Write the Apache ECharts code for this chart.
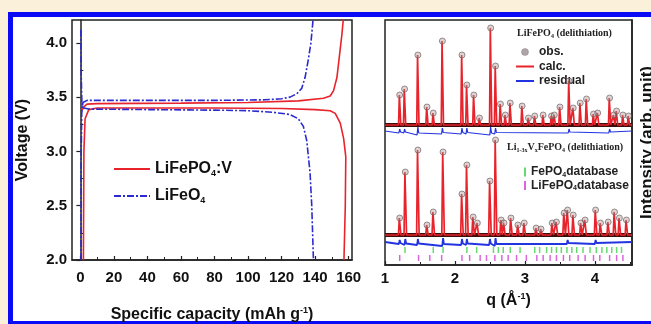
<!DOCTYPE html>
<html><head><meta charset="utf-8">
<script src="https://cdn.jsdelivr.net/npm/echarts@6/dist/echarts.min.js"></script>
<style>
html,body{margin:0;padding:0;width:651px;height:324px;overflow:hidden;background:#fbf0d9;}
#frame{position:absolute;left:8px;top:12px;width:680px;height:314px;border:5px solid #0a0af5;background:#fff;box-sizing:border-box;}
#chart{position:absolute;left:0;top:0;width:651px;height:324px;}
</style></head>
<body><div id="frame"></div><div id="chart"></div>
<script>
// ---------- Left panel: voltage profiles ----------
const xTicksLeft = [0,20,40,60,80,100,120,140,160];
const xMinorLeft = [10,30,50,70,90,110,130,150];
const yTicksLeft = [2.0,2.5,3.0,3.5,4.0];
const yMinorLeft = [2.25,2.75,3.25,3.75];

const lfpvCharge = [[1.0,3.38],[2,3.41],[4,3.435],[10,3.44],[60,3.445],[100,3.45],[130,3.465],[145,3.49],[149,3.51],[151,3.56],[153,3.68],[154.5,3.88],[156,4.08],[157,4.25]];
const lfpvDischarge = [[1.8,2.0],[2.1,3.0],[2.8,3.3],[5,3.385],[10,3.40],[40,3.40],[80,3.40],[120,3.395],[140,3.385],[149,3.375],[152,3.35],[155,3.26],[157,3.12],[158.3,2.95],[158,2.5],[157.2,2.0]];
const lfoCharge = [[0.4,2.0],[0.5,3.0],[0.8,3.35],[1.5,3.45],[4,3.47],[40,3.47],[80,3.47],[110,3.475],[120,3.485],[125,3.50],[129,3.53],[132,3.58],[134,3.68],[136,3.85],[137.5,4.0],[139,4.25]];
const lfoDischarge = [[0.3,4.12],[0.5,3.7],[0.9,3.45],[2,3.40],[5,3.39],[40,3.385],[80,3.38],[100,3.375],[115,3.36],[125,3.34],[130,3.3],[133,3.23],[135,3.1],[136,2.95],[137,2.8],[138,2.5],[139,2.0]];

// ---------- Right panel: diffraction patterns ----------
const qTicks = [1,2,3,4];
const qMinor = [1.5,2.5,3.5,4.5];
// peak positions (q, 1/Å) and heights (arb. unit)
const peaksLFP = [[1.21,30],[1.28,36],[1.47,70],[1.60,18],[1.69,12],[1.82,84],[2.10,70],[2.17,40],[2.27,30],[2.35,7],[2.51,97],[2.58,59],[2.65,21],[2.72,10],[2.79,22],[2.96,19],[3.05,7],[3.14,9],[3.26,10],[3.38,9],[3.42,10],[3.50,18],[3.63,44],[3.69,17],[3.79,22],[3.88,26],[3.98,11],[4.04,12],[4.21,27],[4.27,10],[4.31,14],[4.40,10],[4.48,9]];
const peaksLVFP = [[1.21,17],[1.29,63],[1.47,85],[1.60,10],[1.69,23],[1.83,83],[2.10,41],[2.17,70],[2.26,18],[2.32,12],[2.50,54],[2.58,95],[2.66,15],[2.70,12],[2.80,17],[2.90,10],[2.99,12],[3.16,7],[3.23,6],[3.39,12],[3.45,13],[3.56,22],[3.61,25],[3.69,20],[3.80,12],[3.86,15],[4.01,25],[4.08,12],[4.19,13],[4.28,23],[4.35,17],[4.45,15]];
const residLFP = [[1.21,2],[1.28,2],[1.47,4],[1.82,3],[2.10,3],[2.17,3],[2.51,4],[2.58,3],[3.63,2],[4.21,2]];
const residLVFP = [[1.21,2],[1.29,3],[1.47,3],[1.83,4],[2.10,3],[2.17,3],[2.50,3],[2.58,4],[3.61,2],[4.01,2]];
const ticksFePO4 = [1.286,1.69,1.83,2.17,2.31,2.55,2.62,2.69,2.79,2.93,3.14,3.21,3.31,3.38,3.45,3.52,3.60,3.67,3.74,3.83,3.93,4.02,4.10,4.17,4.24,4.31,4.38];
const ticksLiFePO4 = [1.21,1.48,1.64,1.81,2.10,2.21,2.36,2.45,2.57,2.67,2.76,2.88,3.02,3.17,3.26,3.36,3.45,3.55,3.64,3.76,3.86,3.98,4.07,4.21,4.31,4.40];
// vertical offsets of the stacked traces (arb. unit)
const offTop = 140, offTopRes = 134, offBot = 30, offBotRes = 23, offFe = 15, offLi = 7;
const qMin = 1, qMax = 4.53;

function spikes(peaks, base, w){
  const pts=[[qMin,base]];
  peaks.forEach(([q,h])=>{pts.push([q-w,base],[q-w*0.3,base+h],[q+w*0.3,base+h],[q+w,base]);});
  pts.push([qMax,base]);
  return pts;
}
function resid(list, base){
  const pts=[[qMin,base]];
  list.forEach(([q,a])=>{pts.push([q-0.012,base-a],[q,base+a],[q+0.012,base-a*0.5],[q+0.025,base]);});
  pts.push([qMax,base]);
  return pts;
}

const RED='#e8232b', BLUE='#2a2ad0';
const FONT='"Liberation Sans", Arial, sans-serif';
const SERIF='"Liberation Serif", "Times New Roman", serif';
const labelMap = {
  'LiFePO4:V':'{n|LiFePO}{s|4}{n|:V}',
  'LiFeO4':'{n|LiFeO}{s|4}',
  'obs.':'{m|obs.}','calc.':'{m|calc.}','residual':'{m|residual}',
  'FePO4 database':'{m|FePO}{t|4}{m|database}',
  'LiFePO4 database':'{m|LiFePO}{t|4}{m|database}'
};
const richBig = {n:{fontSize:16,fontWeight:'bold',fontFamily:FONT,color:'#111',lineHeight:18},
                 s:{fontSize:9,fontWeight:'bold',fontFamily:FONT,color:'#111',lineHeight:6,verticalAlign:'bottom'}};
const richSmall = {m:{fontSize:12,fontWeight:'bold',fontFamily:FONT,color:'#222',lineHeight:13},
                   t:{fontSize:7,fontWeight:'bold',fontFamily:FONT,color:'#222',lineHeight:4,verticalAlign:'bottom'}};
const hideSym = {opacity:0, borderWidth:0};

const chart = echarts.init(document.getElementById('chart'), null, {renderer:'canvas'});
const axisLineStyle = {color:'#222', width:1.5};
const option = {
  animation:false,
  textStyle:{fontFamily:FONT},
  grid:[
    {left:72, top:20, width:280, height:240, show:true, borderColor:'#222', borderWidth:1.5, backgroundColor:'transparent', outerBoundsMode:'none', containLabel:false},
    {left:385, top:20, width:247, height:245, show:true, borderColor:'#222', borderWidth:1.5, backgroundColor:'transparent', outerBoundsMode:'none', containLabel:false}
  ],
  xAxis:[
    {type:'value', gridIndex:0, min:-5, max:162, position:'bottom',
     axisLine:{show:true, lineStyle:axisLineStyle}, splitLine:{show:false},
     axisTick:{show:true, inside:true, length:4, customValues:xTicksLeft, lineStyle:{color:'#222',width:1.2}},
     axisLabel:{customValues:xTicksLeft, margin:10, fontSize:15, fontWeight:'bold', color:'#111', fontFamily:FONT},
     name:'{a|Specific capacity (mAh g}{p|-1}{a|)}', nameLocation:'middle', nameGap:46,
     nameTextStyle:{rich:{a:{fontSize:16,fontWeight:'bold',color:'#111',fontFamily:FONT,lineHeight:18},
                          p:{fontSize:9,fontWeight:'bold',color:'#111',fontFamily:FONT,lineHeight:14,verticalAlign:'top'}}}},
    {type:'value', gridIndex:0, min:-5, max:162, position:'bottom',
     axisLine:{show:false}, splitLine:{show:false}, axisLabel:{show:false},
     axisTick:{show:true, inside:true, length:3, customValues:xMinorLeft, lineStyle:{color:'#222',width:1}}},
    {type:'value', gridIndex:1, min:qMin, max:qMax, position:'bottom',
     axisLine:{show:true, lineStyle:axisLineStyle}, splitLine:{show:false},
     axisTick:{show:true, inside:true, length:4, customValues:qTicks, lineStyle:{color:'#222',width:1.2}},
     axisLabel:{customValues:qTicks, margin:6, fontSize:15, fontWeight:'bold', color:'#111', fontFamily:FONT},
     name:'{a|q (Å}{p|-1}{a|)}', nameLocation:'middle', nameGap:27,
     nameTextStyle:{rich:{a:{fontSize:16,fontWeight:'bold',color:'#111',fontFamily:FONT,lineHeight:18},
                          p:{fontSize:9,fontWeight:'bold',color:'#111',fontFamily:FONT,lineHeight:14,verticalAlign:'top'}}}},
    {type:'value', gridIndex:1, min:qMin, max:qMax, position:'bottom',
     axisLine:{show:false}, splitLine:{show:false}, axisLabel:{show:false},
     axisTick:{show:true, inside:true, length:3, customValues:qMinor, lineStyle:{color:'#222',width:1}}}
  ],
  yAxis:[
    {type:'value', gridIndex:0, min:2.0, max:4.21, position:'left',
     axisLine:{show:true, lineStyle:axisLineStyle}, splitLine:{show:false},
     axisTick:{show:true, inside:false, length:4, customValues:yTicksLeft, lineStyle:{color:'#222',width:1.2}},
     axisLabel:{customValues:yTicksLeft, margin:5, fontSize:15, fontWeight:'bold', color:'#111', fontFamily:FONT,
                formatter:v=>v.toFixed(1)},
     name:'Voltage (V)', nameLocation:'middle', nameGap:41,
     nameTextStyle:{fontSize:16, fontWeight:'bold', color:'#111', fontFamily:FONT}},
    {type:'value', gridIndex:0, min:2.0, max:4.21, position:'left',
     axisLine:{show:false}, splitLine:{show:false}, axisLabel:{show:false},
     axisTick:{show:true, inside:true, length:3, customValues:yMinorLeft, lineStyle:{color:'#222',width:1}}},
    {type:'value', gridIndex:1, min:0, max:245, position:'right',
     axisLine:{show:true, lineStyle:axisLineStyle}, splitLine:{show:false},
     axisTick:{show:false}, axisLabel:{show:false},
     name:'Intensity (arb. unit)', nameLocation:'middle', nameGap:7,
     nameTextStyle:{fontSize:17, fontWeight:'bold', color:'#111', fontFamily:FONT}}
  ],
  legend:[
    {data:[{name:'LiFePO4:V', itemStyle:hideSym},{name:'LiFeO4', itemStyle:hideSym}],
     orient:'vertical', left:113, top:161, padding:0, itemWidth:36, itemHeight:12, itemGap:10,
     formatter:n=>labelMap[n], textStyle:{rich:richBig}, selectedMode:false},
    {data:[{name:'obs.', icon:'circle', itemStyle:{color:'#9a9090', borderColor:'#777', borderWidth:0.5}},
           {name:'calc.', itemStyle:hideSym},{name:'residual', itemStyle:hideSym}],
     orient:'vertical', left:515, top:46, padding:0, itemWidth:18, itemHeight:7, itemGap:2.5,
     formatter:n=>labelMap[n], textStyle:{rich:richSmall}, selectedMode:false},
    {data:['FePO4 database','LiFePO4 database'], orient:'vertical', left:524, top:166, padding:0, itemWidth:2, itemHeight:9, itemGap:1,
     icon:'rect', formatter:n=>labelMap[n], textStyle:{rich:richSmall}, selectedMode:false}
  ],
  title:[
    {text:'{a|LiFePO}{s|4}{a| (delithiation)}', left:517, top:27, padding:0,
     textStyle:{rich:{a:{fontFamily:SERIF,fontWeight:'bold',fontSize:10,color:'#222',lineHeight:12},
                      s:{fontFamily:SERIF,fontWeight:'bold',fontSize:6,color:'#222',lineHeight:4,verticalAlign:'bottom'}}}},
    {text:'{a|Li}{s|1-3x}{a|V}{s|x}{a|FePO}{s|4}{a| (delithiation)}', left:507, top:141, padding:0,
     textStyle:{rich:{a:{fontFamily:SERIF,fontWeight:'bold',fontSize:10,color:'#222',lineHeight:12},
                      s:{fontFamily:SERIF,fontWeight:'bold',fontSize:6,color:'#222',lineHeight:4,verticalAlign:'bottom'}}}}
  ],
  series:[
    {name:'LiFePO4:V', type:'line', xAxisIndex:0, yAxisIndex:0, data:lfpvCharge, showSymbol:false, symbol:'none',
     lineStyle:{color:RED, width:1.6}, itemStyle:{color:RED}},
    {name:'LiFePO4:V', type:'line', xAxisIndex:0, yAxisIndex:0, data:lfpvDischarge, showSymbol:false, symbol:'none',
     lineStyle:{color:RED, width:1.6}, itemStyle:{color:RED}},
    {name:'LiFeO4', type:'line', xAxisIndex:0, yAxisIndex:0, data:lfoCharge, showSymbol:false, symbol:'none',
     lineStyle:{color:BLUE, width:1.6, type:[7,2,2,2]}, itemStyle:{color:BLUE}},
    {name:'LiFeO4', type:'line', xAxisIndex:0, yAxisIndex:0, data:lfoDischarge, showSymbol:false, symbol:'none',
     lineStyle:{color:BLUE, width:1.6, type:[7,2,2,2]}, itemStyle:{color:BLUE}},

    // background level (dense observed points along baseline)
    {name:'bgTop', type:'line', xAxisIndex:2, yAxisIndex:2, data:[[qMin,offTop],[qMax,offTop]], symbol:'none',
     lineStyle:{color:'#3a0e0a', width:4}, silent:true, z:1},
    {name:'bgBot', type:'line', xAxisIndex:2, yAxisIndex:2, data:[[qMin,offBot],[qMax,offBot]], symbol:'none',
     lineStyle:{color:'#3a0e0a', width:4}, silent:true, z:1},

    {name:'calc.', type:'line', xAxisIndex:2, yAxisIndex:2, data:spikes(peaksLFP,offTop,0.016), symbol:'none',
     lineStyle:{color:RED, width:1.7}, itemStyle:{color:RED}, z:3},
    {name:'calc.', type:'line', xAxisIndex:2, yAxisIndex:2, data:spikes(peaksLVFP,offBot,0.018), symbol:'none',
     lineStyle:{color:RED, width:1.7}, itemStyle:{color:RED}, z:3},
    {name:'obs.', type:'scatter', xAxisIndex:2, yAxisIndex:2, data:peaksLFP.map(([q,h])=>[q,offTop+h]),
     symbol:'circle', symbolSize:6, itemStyle:{color:'rgba(170,150,150,0.5)', borderColor:'#6a5555', borderWidth:0.8}, z:4},
    {name:'obs.', type:'scatter', xAxisIndex:2, yAxisIndex:2, data:peaksLVFP.map(([q,h])=>[q,offBot+h]),
     symbol:'circle', symbolSize:6, itemStyle:{color:'rgba(170,150,150,0.5)', borderColor:'#6a5555', borderWidth:0.8}, z:4},
    {name:'residual', type:'line', xAxisIndex:2, yAxisIndex:2, data:resid(residLFP,offTopRes), symbol:'none',
     lineStyle:{color:'#2233e0', width:1.2}, itemStyle:{color:'#2233e0'}, z:3},
    {name:'residual', type:'line', xAxisIndex:2, yAxisIndex:2, data:resid(residLVFP,offBotRes), symbol:'none',
     lineStyle:{color:'#2233e0', width:1.8}, itemStyle:{color:'#2233e0'}, z:3},
    {name:'FePO4 database', type:'scatter', xAxisIndex:2, yAxisIndex:2, data:ticksFePO4.map(q=>[q,offFe]),
     symbol:'rect', symbolSize:[1.5,6], itemStyle:{color:'#3fd14a'}},
    {name:'LiFePO4 database', type:'scatter', xAxisIndex:2, yAxisIndex:2, data:ticksLiFePO4.map(q=>[q,offLi]),
     symbol:'rect', symbolSize:[1.5,6], itemStyle:{color:'#d23fd6'}}
  ]
};
chart.setOption(option);
</script>
</body></html>
